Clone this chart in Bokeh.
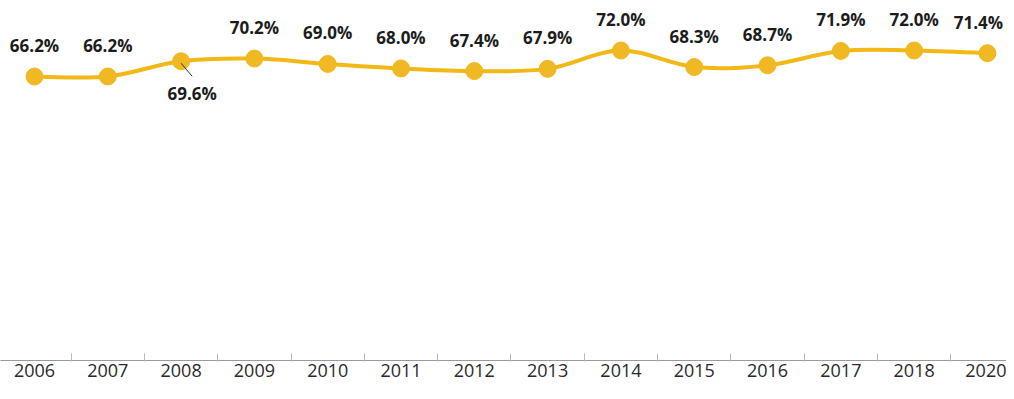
from bokeh.plotting import figure
from bokeh.models import FixedTicker, Range1d, ColumnDataSource
from bokeh.core.properties import value
from bokeh.embed import file_html
from bokeh.resources import INLINE

# ---- data ----
years = ["2006", "2007", "2008", "2009", "2010", "2011", "2012", "2013",
         "2014", "2015", "2016", "2017", "2018", "2020"]
rates = [66.2, 66.2, 69.6, 70.2, 69.0, 68.0, 67.4, 67.9,
         72.0, 68.3, 68.7, 71.9, 72.0, 71.4]
labels = [f"{v:.1f}%" for v in rates]

# ---- styles ----
LINE_COLOR = "#F2B816"
MARK_COLOR = "#F0B923"
TEXT_COLOR = "#1c1c1c"

idx = list(range(len(years)))

FW, FH = 1006, 360
XS, XE = -0.464, 13.26
YS, YE = 2.81, 83.16

p = figure(frame_width=FW, frame_height=FH,
           x_range=Range1d(XS, XE), y_range=Range1d(YS, YE),
           output_backend="svg", toolbar_location=None,
           y_axis_location=None, min_border_left=0, min_border_right=0,
           min_border_top=0, min_border_bottom=22)
p.outline_line_color = None
p.xgrid.grid_line_color = None
p.ygrid.grid_line_color = None
p.background_fill_color = "white"
p.border_fill_color = "white"

# smoothed line through the data (cubic Bezier segments, Catmull-Rom style)
n = len(rates)
x0, y0, x1, y1, cx0, cy0, cx1, cy1 = [], [], [], [], [], [], [], []
for i in range(n - 1):
    im1 = max(i - 1, 0)
    ip2 = min(i + 2, n - 1)
    x0.append(idx[i]); y0.append(rates[i])
    x1.append(idx[i + 1]); y1.append(rates[i + 1])
    cx0.append(idx[i] + (idx[i + 1] - idx[im1]) / 6.0)
    cy0.append(rates[i] + (rates[i + 1] - rates[im1]) / 6.0)
    cx1.append(idx[i + 1] - (idx[ip2] - idx[i]) / 6.0)
    cy1.append(rates[i + 1] - (rates[ip2] - rates[i]) / 6.0)
p.bezier(x0=x0, y0=y0, x1=x1, y1=y1, cx0=cx0, cy0=cy0, cx1=cx1, cy1=cy1,
         line_color=LINE_COLOR, line_width=4)

p.scatter(idx, rates, size=17, fill_color=MARK_COLOR, line_color=MARK_COLOR)

# labels: all above except 2008 which is below with a leader line
above = [i for i in idx if years[i] != "2008"]
x_off = [-9 if i == idx[-1] else 0 for i in above]
src = ColumnDataSource(dict(x=[idx[i] for i in above], y=[rates[i] for i in above],
                            t=[labels[i] for i in above], xo=x_off))
p.text(x="x", y="y", text="t", source=src, x_offset="xo", y_offset=-31,
       text_align="center", text_baseline="middle",
       text_font=value("Open Sans"), text_font_style="bold",
       text_font_size="17px", text_color=TEXT_COLOR)

k = 2  # 2008
px_per_x = FW / (XE - XS)
px_per_y = FH / (YE - YS)
p.text(x=[idx[k]], y=[rates[k]], text=[labels[k]], x_offset=11, y_offset=32,
       text_align="center", text_baseline="middle",
       text_font=value("Open Sans"), text_font_style="bold",
       text_font_size="17px", text_color=TEXT_COLOR)
p.segment(x0=[idx[k]], y0=[rates[k] - 2 / px_per_y],
          x1=[idx[k] + 11 / px_per_x], y1=[rates[k] - 15 / px_per_y],
          line_color="#333333", line_width=1)

# axis
ax = p.xaxis[0]
ax.ticker = FixedTicker(ticks=idx, minor_ticks=[i + 0.5 for i in idx[:-1]])
ax.major_label_overrides = {i: years[i] for i in idx}
ax.major_tick_line_color = None
ax.major_tick_in = 0
ax.major_tick_out = 0
ax.minor_tick_in = 7
ax.minor_tick_out = 1
ax.minor_tick_line_color = "#b8b8b8"
ax.axis_line_color = "#9a9a9a"
ax.major_label_standoff = 2
ax.major_label_text_font = "Open Sans"
ax.major_label_text_font_size = "18px"
ax.major_label_text_color = "#2a2a2a"

open("out.html", "w").write(file_html(p, INLINE))
